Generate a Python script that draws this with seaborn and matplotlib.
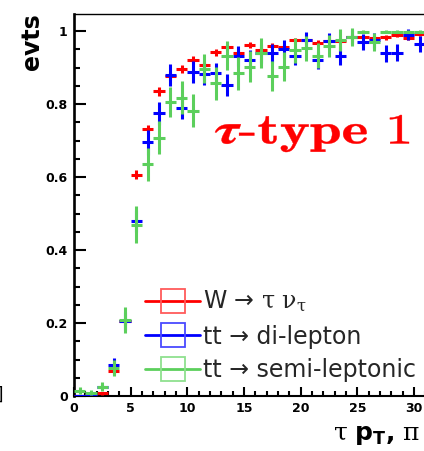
import numpy as np
import pandas as pd
import matplotlib
matplotlib.use("Agg")
import matplotlib.pyplot as plt
import seaborn as sns
from matplotlib.lines import Line2D
from matplotlib.ticker import MultipleLocator
from matplotlib.textpath import TextPath
from matplotlib.patches import PathPatch
from matplotlib.font_manager import FontProperties
from matplotlib.transforms import Affine2D, IdentityTransform

# tau-identification efficiency vs visible tau pT, 1 GeV bins (centres)
pt_centres = np.arange(0.5, 31.0, 1.0)

eff_w = [0.000, 0.002, 0.007, 0.068, 0.205, 0.607, 0.731, 0.835, 0.876, 0.896,
         0.921, 0.908, 0.942, 0.957, 0.940, 0.963, 0.948, 0.959, 0.956, 0.975,
         0.975, 0.968, 0.974, 0.974, 0.985, 0.984, 0.982, 0.983, 0.989, 0.980,
         0.992]
err_w = [0.002, 0.002, 0.004, 0.008, 0.010, 0.013, 0.013, 0.012, 0.011, 0.010,
         0.010, 0.010, 0.009, 0.009, 0.009, 0.008, 0.008, 0.008, 0.008, 0.007,
         0.007, 0.007, 0.007, 0.006, 0.006, 0.006, 0.006, 0.006, 0.005, 0.005,
         0.005]

eff_dilep = [0.000, 0.003, 0.025, 0.085, 0.206, 0.479, 0.695, 0.775, 0.879, 0.788,
             0.888, 0.883, 0.884, 0.852, 0.932, 0.922, 0.939, 0.939, 0.952, 0.932,
             0.976, 0.921, 0.973, 0.932, 0.984, 0.970, 0.975, 0.939, 0.941, 0.990,
             0.965]
err_dilep = [0.003, 0.003, 0.006, 0.020, 0.025, 0.030, 0.034, 0.032, 0.030, 0.030,
             0.030, 0.030, 0.030, 0.030, 0.028, 0.027, 0.027, 0.026, 0.025, 0.025,
             0.022, 0.025, 0.022, 0.024, 0.020, 0.022, 0.020, 0.024, 0.024, 0.015,
             0.022]

eff_semilep = [0.015, 0.009, 0.026, 0.078, 0.208, 0.470, 0.635, 0.708, 0.806, 0.818,
               0.782, 0.897, 0.857, 0.933, 0.884, 0.903, 0.940, 0.877, 0.902, 0.947,
               0.953, 0.933, 0.960, 0.975, 0.984, 0.999, 0.971, 0.999, 0.999, 0.999,
               0.999]
err_semilep = [0.010, 0.007, 0.012, 0.022, 0.035, 0.050, 0.045, 0.045, 0.042, 0.045,
               0.045, 0.040, 0.045, 0.040, 0.045, 0.042, 0.040, 0.042, 0.040, 0.035,
               0.035, 0.035, 0.030, 0.030, 0.025, 0.004, 0.025, 0.004, 0.004, 0.004,
               0.004]

samples = ["W \u2192 $\\mathrm{\u03c4}$ $\\mathrm{\u03bd}_{\\mathrm{\u03c4}}$",
           "tt \u2192 di-lepton",
           "tt \u2192 semi-leptonic"]
colors = ["#ff0000", "#0000ff", "#5ccf5c"]
edge_colors = ["#ff5a5a", "#4a4aff", "#8fe08f"]

df = pd.concat([
    pd.DataFrame({"pt": pt_centres, "eff": e, "err": s, "sample": name})
    for e, s, name in zip([eff_w, eff_dilep, eff_semilep],
                          [err_w, err_dilep, err_semilep], samples)
])

sns.set_theme(style="white")
plt.rcParams["font.family"] = ["DejaVu Sans"]
plt.rcParams["mathtext.fontset"] = "custom"
plt.rcParams["mathtext.rm"] = "DejaVu Serif"
plt.rcParams["mathtext.it"] = "DejaVu Serif:italic"
plt.rcParams["mathtext.bf"] = "DejaVu Sans:bold"

W, H = 424, 451
fig = plt.figure(figsize=(W / 100, H / 100), dpi=100)
fig.patch.set_facecolor("white")

x_max = 40.0
px_per_gev = 11.33
ax = fig.add_axes([74 / W, 55 / H, x_max * px_per_gev / W, 382 / H])
ax.set_facecolor("white")

for i, (name, grp) in enumerate(df.groupby("sample", sort=False)):
    ax.errorbar(grp["pt"], grp["eff"], xerr=0.5, yerr=grp["err"], fmt="none",
                ecolor=colors[i], elinewidth=2.2, capsize=0, zorder=3 + i)

ax.set_xlim(0, x_max)
ax.set_ylim(0, 1.047)
ax.xaxis.set_major_locator(MultipleLocator(5))
ax.xaxis.set_minor_locator(MultipleLocator(1))
ax.yaxis.set_major_locator(MultipleLocator(0.2))
ax.yaxis.set_minor_locator(MultipleLocator(0.05))
ax.yaxis.set_major_formatter(plt.FuncFormatter(lambda v, p: "0" if v == 0 else ("1" if abs(v - 1) < 1e-9 else f"{v:.1f}")))
ax.grid(False)

ax.tick_params(axis="both", which="both", direction="in", colors="black",
               labelsize=9, pad=4.5)
ax.tick_params(axis="y", which="major", left=True, length=8.6, width=1.5)
ax.tick_params(axis="y", which="minor", left=True, length=4.3, width=1.5)
ax.tick_params(axis="x", which="major", bottom=True, length=6.5, width=1.5)
ax.tick_params(axis="x", which="minor", bottom=True, length=3.6, width=1.5)
for lab in ax.get_xticklabels() + ax.get_yticklabels():
    lab.set_fontweight("bold")

for side, lw in [("left", 1.9), ("bottom", 1.5), ("top", 1.0), ("right", 1.0)]:
    ax.spines[side].set_color("black")
    ax.spines[side].set_linewidth(lw)

handles = [Line2D([0], [0], color=c, lw=2.0, marker="s", markersize=17,
                  markerfacecolor="none", markeredgecolor=ec, markeredgewidth=1.3)
           for c, ec in zip(colors, edge_colors)]
ax.legend(handles, samples, loc="upper left",
          bbox_to_anchor=(145 / W, 1 - 289 / H), bbox_transform=fig.transFigure,
          frameon=False, fontsize=17, borderpad=0, borderaxespad=0,
          handlelength=2.35, handletextpad=0.12, labelspacing=0.4)

fig.text(32 / W, 1 - 13 / H, "evts", rotation=90, ha="center", va="top",
         fontsize=17, fontweight="bold", color="black")

fig.text(333 / W, 1 - 440 / H,
         "$\\mathrm{\u03c4}\\ \\mathbf{p_{T}}\\mathbf{,}\\ \\mathrm{\u03c0}\\ \\mathbf{p_{T}}$ [GeV]",
         ha="left", va="baseline", fontsize=18, color="black")

# wide bold serif tag, fitted into its box (pixel coords, origin top-left)
tag_box = (215, 409, 115, 152)  # left, right, top, bottom
tag_path = TextPath((0, 0), r"$\boldsymbol{\tau}\mathbf{\text{-}type\ 1}$", size=32,
                    prop=FontProperties(math_fontfamily="cm"))
ext = tag_path.get_extents()
sx = (tag_box[1] - tag_box[0]) / ext.width
sy = (tag_box[3] - tag_box[2]) / ext.height
tag_tf = (Affine2D().translate(-ext.x0, -ext.y0).scale(sx, sy)
          .translate(tag_box[0], H - tag_box[3]))
fig.add_artist(PathPatch(tag_path, transform=tag_tf + IdentityTransform(),
                         facecolor="#ff0000", edgecolor="#ff0000", lw=0.3))

fig.text(3 / W, 1 - 400 / H, "]", ha="right", va="baseline", fontsize=12,
         color="black")

fig.savefig("out.png", dpi=100)
